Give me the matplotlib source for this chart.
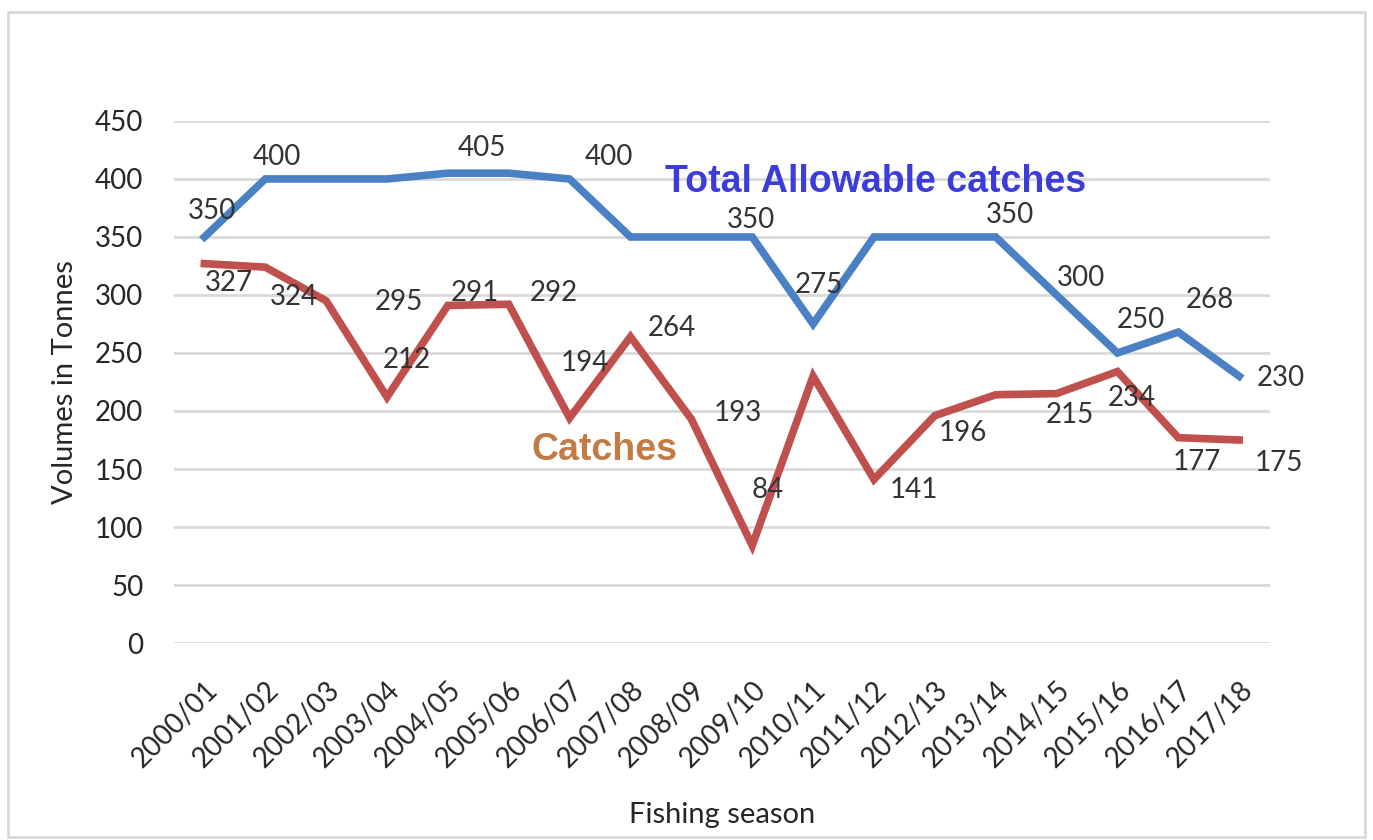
import matplotlib.pyplot as plt
from matplotlib.patches import Rectangle

plt.rcParams["font.family"] = ["Lato", "DejaVu Sans"]

SEASONS = ["2000/01", "2001/02", "2002/03", "2003/04", "2004/05", "2005/06",
           "2006/07", "2007/08", "2008/09", "2009/10", "2010/11", "2011/12",
           "2012/13", "2013/14", "2014/15", "2015/16", "2016/17", "2017/18"]
TAC = [350, 400, 400, 400, 405, 405, 400, 350, 350, 350, 275, 350,
       350, 350, 300, 250, 268, 230]
CATCHES = [327, 324, 295, 212, 291, 292, 194, 264, 193, 84, 230, 141,
           196, 214, 215, 234, 177, 175]

# which points carry a data label (None = no label shown)
TAC_LABELS = ["350", "400", None, None, "405", None, "400", None, None, "350",
              "275", None, None, "350", "300", "250", "268", "230"]
CATCH_LABELS = ["327", "324", "295", "212", "291", "292", "194", "264", "193",
                "84", None, "141", "196", None, "215", "234", "177", "175"]

# label offsets from the point, in pixels (dx, dy up)
TAC_OFFS = [(8, 26), (12, 22), None, None, (34, 25), None, (39, 22), None, None,
            (-1, 17), (6, 39), None, None, (14, 22), (24, 17), (23, 33),
            (32, 32), (42, -2)]
CATCH_OFFS = [(25, -19), (29, -30), (73, -1), (20, 37), (27, 12), (45, 11),
              (15, 55), (41, 9), (46, 6), (16, 56), None, (40, -11), (28, -17),
              None, (13, -21), (14, -26), (19, -24), (40, -23)]

BLUE = "#4a80c4"
RED = "#c0504d"
TXT = "#333333"

fig = plt.figure(figsize=(13.73, 8.4), dpi=100)
ax = fig.add_axes([0.1267, 0.2345, 0.798, 0.6215])

x = list(range(len(SEASONS)))
ax.plot(x, TAC, color=BLUE, lw=5.5, solid_joinstyle="miter", zorder=3)
ax.plot(x, CATCHES, color=RED, lw=5.5, solid_joinstyle="miter", zorder=3)

for xs, ys, labs, offs in [(x, TAC, TAC_LABELS, TAC_OFFS),
                           (x, CATCHES, CATCH_LABELS, CATCH_OFFS)]:
    for xi, yi, lab, off in zip(xs, ys, labs, offs):
        if lab is None:
            continue
        ax.annotate(lab, (xi, yi), xytext=off, textcoords="offset pixels",
                    ha="center", va="center", fontsize=20, color=TXT, zorder=4)

ax.text(0.64, 0.884, "Total Allowable catches", transform=ax.transAxes,
        ha="center", va="center", fontsize=27, fontweight="bold",
        color="#3c3cd8", family=["Liberation Sans", "DejaVu Sans"])
ax.text(0.393, 0.37, "Catches", transform=ax.transAxes,
        ha="center", va="center", fontsize=27, fontweight="bold",
        color="#c47a45", family=["Liberation Sans", "DejaVu Sans"])

ax.set_xlim(-0.5, len(SEASONS) - 0.5)
ax.set_ylim(0, 450)
ax.set_yticks(range(0, 451, 50))
ax.set_xticks(x)
ax.set_xticklabels(SEASONS, rotation=45, ha="right", rotation_mode="anchor",
                   fontsize=20, color="#262626")
ax.tick_params(axis="y", labelsize=20, labelcolor="#262626", length=0, pad=22)
ax.tick_params(axis="x", length=0, pad=24)
ax.grid(axis="y", color="#d9d9d9", lw=2)
ax.set_axisbelow(True)
for s in ax.spines.values():
    s.set_visible(False)

ax.set_ylabel("Volumes in Tonnes", fontsize=21, color="#262626", labelpad=12)
ax.set_xlabel("Fishing season", fontsize=21, color="#262626", labelpad=22)

fig.patches.append(Rectangle((0.006, 0.004), 0.988, 0.982, transform=fig.transFigure,
                             fill=False, edgecolor="#d9d9d9", lw=2))

fig.savefig("out.png", dpi=100)
